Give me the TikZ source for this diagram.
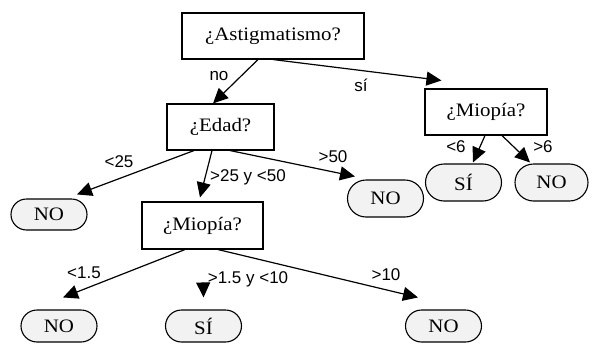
\documentclass[tikz,border=0pt]{standalone}
\usepackage{fontspec}
\setmainfont{Liberation Serif}[FakeStretch=1.1]
\newfontfamily\lblfont{Liberation Sans}
\usetikzlibrary{arrows.meta,shapes.misc}
\definecolor{leafgray}{HTML}{F2F2F2}

\begin{document}
\begin{tikzpicture}[x=1pt, y=-1pt,
    test/.style={draw, line width=1.1pt, fill=white, minimum height=46pt, inner sep=0pt,
      font=\fontsize{19}{19}\selectfont},
    leaf/.style={rounded rectangle, draw, line width=1.1pt, fill=leafgray, minimum width=76pt,
      minimum height=35pt, inner sep=0pt, font=\fontsize{19}{19}\selectfont},
    link/.style={line width=1.2pt, -{Triangle[length=15pt,width=14pt]}},
    lbl/.style={font=\lblfont\fontsize{17}{17}\selectfont, inner sep=0pt}]
        \useasboundingbox (0,0) rectangle (592,343);
        % Define tests
        \node[test, minimum width=182pt] (astig) at (273,36) {¿Astigmatismo?};
        \node[test, minimum width=107pt] (edad) at (220.5,127) {¿Edad?};
        \node[test, minimum width=122pt] (miopR) at (486,112) {¿Miopía?};
        \node[test, minimum width=121pt, minimum height=47pt] (miopM) at (202.5,225.5) {¿Miopía?};
        % Define leaves
        \node[leaf, minimum height=31pt] (noA) at (49,214.5) {NO};
        \node[leaf, minimum height=37pt] (noB) at (385.5,198.5) {NO};
        \node[leaf, minimum height=37pt] (siA) at (463.5,182.5) {SÍ};
        \node[leaf, minimum height=37pt, minimum width=73pt] (noC) at (551.5,182.5) {NO};
        \node[leaf, minimum height=32pt] (noD) at (59,326) {NO};
        \node[leaf, minimum height=32pt] (siB) at (203.5,326) {SÍ};
        \node[leaf, minimum height=32pt] (noE) at (443.5,326) {NO};

        % Define branches
        \draw[link] ([xshift=-15pt]astig.south) -- ([xshift=-7.5pt]edad.north);
        \draw[link] (astig.south) -- ([xshift=17pt,yshift=8pt]miopR.north west);
        \draw[link] ([xshift=-26.5pt]edad.south) -- ([xshift=28pt,yshift=4pt]noA.north);
        \draw[link] ([xshift=-8.5pt]edad.south) -- ([xshift=-2.5pt,yshift=4pt]miopM.north);
        \draw[link] ([xshift=9.5pt]edad.south) -- ([xshift=-30.5pt,yshift=3pt]noB.north);
        \draw[link] ([xshift=-1pt]miopR.south) -- ([xshift=9.5pt,yshift=1pt]siA.north);
        \draw[link] ([xshift=16pt]miopR.south) -- ([xshift=-21.5pt,yshift=1pt]noC.north);
        \draw[link] ([xshift=-17.5pt]miopM.south) -- ([xshift=4pt,yshift=12pt]noD.north);
        \draw[link, shorten <=35pt] (miopM.south) -- ([yshift=12pt]siB.north);
        \draw[link] ([xshift=15.5pt]miopM.south) -- ([xshift=-25.5pt,yshift=12pt]noE.north);

        % Branch labels
        \node[lbl] (lNo) at (219,76) {no};
        \node[lbl] (lSi) at (361,85) {sí};
        \node[lbl] (l25) at (119,162) {<25};
        \node[lbl] (l2550) at (248,177) {>25 y <50};
        \node[lbl] (l50) at (333,157) {>50};
        \node[lbl] (l6a) at (456,147) {<6};
        \node[lbl] (l6b) at (543,147) {>6};
        \node[lbl] (l15) at (84,273) {<1.5};
        \node[lbl] (l1510) at (248,279) {>1.5 y <10};
        \node[lbl] (l10) at (386,275) {>10};
\end{tikzpicture}
\end{document}
